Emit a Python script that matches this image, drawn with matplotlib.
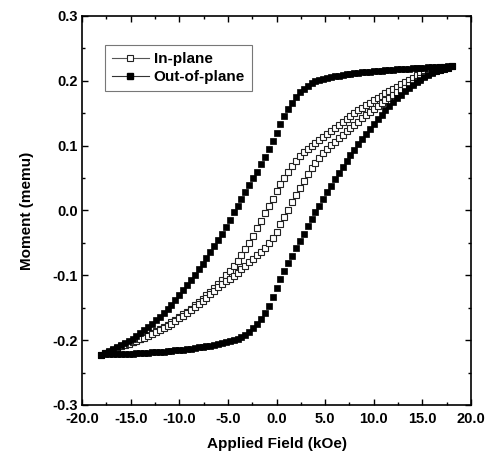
import matplotlib
matplotlib.use("Agg")
import matplotlib.pyplot as plt
from matplotlib.lines import Line2D
from matplotlib.ticker import MultipleLocator, FormatStrFormatter

# applied field (kOe), ascending
field = [
    -18.0, -17.6, -17.2, -16.8, -16.4, -16.0, -15.6, -15.2, -14.8, -14.4,
    -14.0, -13.6, -13.2, -12.8, -12.4, -12.0, -11.6, -11.2, -10.8, -10.4,
    -10.0, -9.6, -9.2, -8.8, -8.4, -8.0, -7.6, -7.2, -6.8, -6.4,
    -6.0, -5.6, -5.2, -4.8, -4.4, -4.0, -3.6, -3.2, -2.8, -2.4,
    -2.0, -1.6, -1.2, -0.8, -0.4, 0.0, 0.4, 0.8, 1.2, 1.6,
    2.0, 2.4, 2.8, 3.2, 3.6, 4.0, 4.4, 4.8, 5.2, 5.6,
    6.0, 6.4, 6.8, 7.2, 7.6, 8.0, 8.4, 8.8, 9.2, 9.6,
    10.0, 10.4, 10.8, 11.2, 11.6, 12.0, 12.4, 12.8, 13.2, 13.6,
    14.0, 14.4, 14.8, 15.2, 15.6, 16.0, 16.4, 16.8, 17.2, 17.6,
    18.0,
]

# out-of-plane, descending branch (memu)
oop_down = [
    -.2222, -.2195, -.2167, -.2140, -.2112, -.2082, -.2050, -.2015, -.1977, -.1936,
    -.1893, -.1847, -.1798, -.1748, -.1695, -.1640, -.1580, -.1517, -.1450, -.1380,
    -.1306, -.1230, -.1152, -.1072, -.0990, -.0906, -.0820, -.0732, -.0643, -.0552,
    -.0460, -.0360, -.0250, -.0140, -.0030, .0075, .0180, .0285, .0390, .0495,
    .0600, .0710, .0825, .0945, .1070, .1200, .1330, .1455, .1565, .1665,
    .1750, .1820, .1880, .1925, .1962, .1990, .2012, .2030, .2045, .2058,
    .2070, .2080, .2090, .2099, .2107, .2115, .2122, .2129, .2135, .2141,
    .2147, .2152, .2157, .2162, .2167, .2172, .2176, .2180, .2184, .2188,
    .2192, .2196, .2200, .2204, .2208, .2211, .2214, .2217, .2219, .2221,
    .2222,
]

# out-of-plane, ascending branch
oop_up = [
    -.2222, -.2221, -.2220, -.2219, -.2217, -.2215, -.2213, -.2210, -.2207, -.2204,
    -.2201, -.2197, -.2193, -.2189, -.2185, -.2180, -.2175, -.2170, -.2164, -.2158,
    -.2152, -.2145, -.2138, -.2130, -.2122, -.2113, -.2104, -.2094, -.2083, -.2072,
    -.2060, -.2047, -.2033, -.2018, -.2000, -.1978, -.1950, -.1915, -.1870, -.1815,
    -.1745, -.1670, -.1585, -.1480, -.1340, -.1190, -.1055, -.0930, -.0810, -.0695,
    -.0580, -.0465, -.0355, -.0245, -.0135, -.0030, .0075, .0180, .0285, .0385,
    .0485, .0580, .0675, .0765, .0855, .0940, .1025, .1105, .1185, .1260,
    .1335, .1405, .1475, .1545, .1610, .1670, .1730, .1785, .1840, .1890,
    .1935, .1980, .2020, .2060, .2095, .2125, .2145, .2165, .2183, .2200,
    .2222,
]

# in-plane, descending branch
ip_down = [
    -.2222, -.2200, -.2175, -.2147, -.2120, -.2090, -.2066, -.2044, -.2023, -.2000,
    -.1976, -.1950, -.1922, -.1893, -.1863, -.1831, -.1798, -.1763, -.1726, -.1686,
    -.1645, -.1602, -.1558, -.1512, -.1464, -.1414, -.1362, -.1308, -.1252, -.1193,
    -.1132, -.1068, -.1000, -.0930, -.0855, -.0775, -.0690, -.0600, -.0500, -.0390,
    -.0275, -.0160, -.0045, .0070, .0185, .0300, .0405, .0505, .0600, .0688,
    .0765, .0835, .0895, .0950, .1000, .1048, .1095, .1140, .1185, .1232,
    .1280, .1325, .1370, .1415, .1460, .1505, .1545, .1585, .1625, .1665,
    .1700, .1735, .1770, .1805, .1840, .1875, .1910, .1945, .1980, .2015,
    .2050, .2085, .2115, .2145, .2170, .2190, .2203, .2212, .2217, .2220,
    .2222,
]

# in-plane, ascending branch
ip_up = [
    -.2222, -.2203, -.2180, -.2152, -.2124, -.2095, -.2072, -.2052, -.2031, -.2009,
    -.1986, -.1961, -.1934, -.1906, -.1877, -.1846, -.1814, -.1780, -.1744, -.1705,
    -.1665, -.1623, -.1580, -.1536, -.1490, -.1442, -.1393, -.1342, -.1290, -.1238,
    -.1185, -.1135, -.1093, -.1050, -.1005, -.0958, -.0908, -.0855, -.0800, -.0745,
    -.0690, -.0635, -.0575, -.0505, -.0425, -.0330, -.0215, -.0100, .0012, .0125,
    .0237, .0347, .0455, .0560, .0655, .0740, .0815, .0882, .0945, .1003,
    .1060, .1115, .1168, .1220, .1270, .1320, .1370, .1420, .1470, .1518,
    .1565, .1610, .1655, .1698, .1740, .1780, .1820, .1858, .1895, .1930,
    .1963, .2002, .2040, .2075, .2105, .2130, .2150, .2168, .2185, .2203,
    .2222,
]

series_labels = ["In-plane", "Out-of-plane"]

plt.rcParams['font.family'] = ['Liberation Sans', 'DejaVu Sans']
plt.rcParams['font.weight'] = 'bold'

fig = plt.figure(figsize=(4.92, 4.57), dpi=100)
ax = fig.add_axes([0.1667, 0.1138, 0.7906, 0.8512])

ms = 4.4
open_style = dict(linestyle='none', marker='s', markersize=ms, markerfacecolor='white',
                  markeredgecolor='#222222', markeredgewidth=0.8)
fill_style = dict(linestyle='none', marker='s', markersize=ms, markerfacecolor='black',
                  markeredgecolor='black', markeredgewidth=0.5)

ax.plot(field, ip_down, **open_style)
ax.plot(field, ip_up, **open_style)
ax.plot(field, oop_down, **fill_style)
ax.plot(field, oop_up, **fill_style)

ax.set_xlim(-20, 20)
ax.set_ylim(-0.3, 0.3)
ax.xaxis.set_major_locator(MultipleLocator(5))
ax.xaxis.set_minor_locator(MultipleLocator(2.5))
ax.yaxis.set_major_locator(MultipleLocator(0.1))
ax.yaxis.set_minor_locator(MultipleLocator(0.05))
ax.xaxis.set_major_formatter(FormatStrFormatter('%.1f'))
ax.yaxis.set_major_formatter(FormatStrFormatter('%.1f'))

ax.tick_params(which='both', direction='in', top=True, right=True, width=1.0, labelsize=10.5)
ax.tick_params(which='major', length=4)
ax.tick_params(which='minor', length=2.5)
ax.tick_params(axis='x', pad=5)
ax.tick_params(axis='y', pad=3)
for s in ax.spines.values():
    s.set_linewidth(1.2)

ax.set_xlabel('Applied Field (kOe)', fontsize=11, fontweight='bold', labelpad=8)
ax.set_ylabel('Moment (memu)', fontsize=11, fontweight='bold', labelpad=13)

handles = [
    Line2D([], [], color='#555555', linewidth=0.8, marker='s', markersize=ms,
           markerfacecolor='white', markeredgecolor='#222222', markeredgewidth=0.8),
    Line2D([], [], color='#333333', linewidth=0.8, marker='s', markersize=ms,
           markerfacecolor='black', markeredgecolor='black'),
]
leg = ax.legend(handles, series_labels, loc='upper left', bbox_to_anchor=(0.059, 0.925),
                borderaxespad=0, fontsize=11, frameon=True, fancybox=False,
                handlelength=2.4, handletextpad=0.35, labelspacing=0.25, borderpad=0.45)
leg.get_frame().set_edgecolor('#555555')
leg.get_frame().set_linewidth(0.8)
for t in leg.get_texts():
    t.set_fontweight('bold')

fig.savefig('out.png', dpi=100)
